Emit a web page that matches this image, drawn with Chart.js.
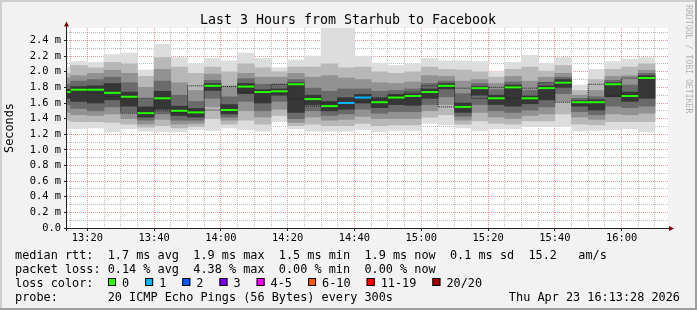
<!DOCTYPE html>
<html>
<head>
<meta charset="utf-8">
<script src="https://cdn.jsdelivr.net/npm/chart.js@4/dist/chart.umd.min.js"></script>
<style>
  html, body { margin: 0; padding: 0; background: #f2f2f2; }
  #wrap { width: 697px; height: 310px; }
</style>
</head>
<body>
<div id="wrap"><canvas id="smoke" width="697" height="310"></canvas></div>
<script>
// 5 minute slots, labelled by the end of each slot
const slotEnds = ['13:15', '13:20', '13:25', '13:30', '13:35', '13:40', '13:45', '13:50', '13:55',
    '14:00', '14:05', '14:10', '14:15', '14:20', '14:25', '14:30', '14:35', '14:40', '14:45', '14:50', '14:55',
    '15:00', '15:05', '15:10', '15:15', '15:20', '15:25', '15:30', '15:35', '15:40', '15:45', '15:50', '15:55',
    '16:00', '16:05', '16:10'];

// rtt in ms, outer smoke band to inner band, then the median
const rttMax = [2.06, 2.13, 2.12, 2.22, 2.24, 2.02, 2.35, 2.18, 2.10, 2.17, 2.14, 2.24, 2.17, 2.05, 2.15, 2.20, 2.60, 2.60, 2.20, 2.11, 2.08, 2.10, 2.17, 2.14, 2.14, 2.13, 2.00, 2.12, 2.21, 2.11, 2.18, 1.83, 2.03, 2.13, 2.16, 2.18];
const rttHi2 = [1.98, 2.08, 2.05, 2.12, 2.10, 1.94, 2.18, 2.06, 1.98, 2.06, 2.00, 2.10, 2.05, 2.00, 2.06, 2.06, 2.10, 2.05, 2.06, 2.00, 1.98, 2.00, 2.06, 2.03, 2.02, 2.00, 1.93, 2.03, 2.06, 2.01, 2.08, 1.76, 1.90, 2.03, 2.06, 2.10];
const rttHi3 = [1.92, 1.95, 1.98, 2.02, 1.98, 1.80, 2.03, 1.86, 1.76, 1.97, 1.82, 1.98, 1.93, 1.93, 1.98, 1.93, 1.95, 1.92, 1.90, 1.86, 1.85, 1.87, 1.95, 1.94, 1.88, 1.90, 1.85, 1.94, 1.88, 1.93, 1.98, 1.70, 1.76, 1.94, 1.95, 2.02];
const rttHi4 = [1.84, 1.88, 1.90, 1.93, 1.86, 1.65, 1.88, 1.70, 1.62, 1.89, 1.68, 1.91, 1.84, 1.84, 1.90, 1.79, 1.75, 1.78, 1.78, 1.75, 1.76, 1.78, 1.85, 1.88, 1.72, 1.85, 1.77, 1.87, 1.76, 1.86, 1.93, 1.66, 1.68, 1.89, 1.83, 1.98];
const rttHi5 = [1.77, 1.81, 1.82, 1.85, 1.74, 1.55, 1.75, 1.56, 1.53, 1.85, 1.58, 1.85, 1.77, 1.78, 1.86, 1.70, 1.62, 1.66, 1.71, 1.66, 1.71, 1.72, 1.78, 1.85, 1.60, 1.81, 1.70, 1.83, 1.69, 1.82, 1.90, 1.63, 1.64, 1.86, 1.74, 1.95];
const rttMedian = [1.74, 1.77, 1.77, 1.73, 1.68, 1.47, 1.66, 1.50, 1.48, 1.82, 1.51, 1.81, 1.74, 1.75, 1.84, 1.65, 1.56, 1.60, 1.67, 1.61, 1.67, 1.69, 1.74, 1.82, 1.55, 1.79, 1.66, 1.80, 1.66, 1.79, 1.86, 1.61, 1.61, 1.84, 1.69, 1.92];
const rttLo5 = [1.66, 1.62, 1.60, 1.64, 1.56, 1.42, 1.52, 1.44, 1.42, 1.76, 1.46, 1.72, 1.60, 1.70, 1.48, 1.58, 1.50, 1.52, 1.60, 1.54, 1.58, 1.57, 1.66, 1.78, 1.48, 1.70, 1.58, 1.56, 1.59, 1.64, 1.80, 1.56, 1.51, 1.68, 1.62, 1.66];
const rttLo4 = [1.58, 1.53, 1.50, 1.55, 1.48, 1.38, 1.46, 1.38, 1.38, 1.66, 1.42, 1.62, 1.50, 1.62, 1.40, 1.50, 1.44, 1.46, 1.52, 1.47, 1.49, 1.49, 1.58, 1.68, 1.43, 1.58, 1.50, 1.48, 1.51, 1.55, 1.72, 1.49, 1.45, 1.56, 1.54, 1.56];
const rttLo3 = [1.48, 1.45, 1.44, 1.46, 1.40, 1.33, 1.39, 1.33, 1.34, 1.55, 1.38, 1.50, 1.42, 1.52, 1.35, 1.42, 1.38, 1.39, 1.43, 1.40, 1.40, 1.40, 1.50, 1.58, 1.38, 1.48, 1.42, 1.40, 1.44, 1.46, 1.62, 1.42, 1.39, 1.46, 1.45, 1.47];
const rttLo2 = [1.38, 1.36, 1.36, 1.35, 1.33, 1.29, 1.31, 1.28, 1.30, 1.40, 1.33, 1.38, 1.33, 1.44, 1.31, 1.33, 1.31, 1.31, 1.34, 1.31, 1.32, 1.32, 1.42, 1.45, 1.33, 1.37, 1.34, 1.33, 1.37, 1.37, 1.46, 1.33, 1.32, 1.36, 1.36, 1.36];
const rttMin = [1.27, 1.27, 1.28, 1.23, 1.27, 1.24, 1.23, 1.23, 1.26, 1.25, 1.28, 1.26, 1.24, 1.36, 1.27, 1.24, 1.24, 1.24, 1.26, 1.23, 1.25, 1.25, 1.34, 1.32, 1.28, 1.25, 1.27, 1.27, 1.30, 1.30, 1.30, 1.24, 1.25, 1.26, 1.27, 1.23];
// lost pings out of 20 per slot
const lossCount = [0, 0, 0, 0, 0, 0, 0, 0, 0, 0, 0, 0, 0, 0, 0, 0, 0, 1, 1, 0, 0, 0, 0, 0, 0, 0, 0, 0, 0, 0, 0, 0, 0, 0, 0, 0];

const lossLabels = ['0', '1', '2', '3', '4-5', '6-10', '11-19', '20/20'];
const lossUpTo = [0, 1, 2, 3, 5, 10, 19, 20];
const lossColors = ['#26ff00', '#00b8ff', '#0059ff', '#7e00ff', '#ff00ff', '#ff5500', '#ff0000', '#a10000'];

const viewEnd = '16:13:54';
const viewSpan = 180;
const slotMin = 5;

const FONT = 'DejaVu Sans Mono';

function toMin(s) {
    const p = s.split(':').map(Number);
    return (p[0] - 13) * 60 + p[1] + (p[2] || 0) / 60;
}
function lossColor(n) {
    for (let i = 0; i < lossUpTo.length; i++) if (n <= lossUpTo[i]) return lossColors[i];
    return lossColors[lossColors.length - 1];
}
function hhmm(v) {
    const h = 13 + Math.floor(v / 60), m = v % 60;
    return h + ':' + String(m).padStart(2, '0');
}

const bands = [
    { lo: rttLo5, hi: rttHi5, color: '#363636' },
    { lo: rttLo4, hi: rttHi4, color: '#6a6a6a' },
    { lo: rttLo3, hi: rttHi3, color: '#929292' },
    { lo: rttLo2, hi: rttHi2, color: '#b8b8b8' },
    { lo: rttMin, hi: rttMax, color: '#dddddd' }
];

const medianPts = [];
slotEnds.forEach((t, i) => {
    const e = toMin(t);
    medianPts.push({ x: e - slotMin, y: rttMedian[i] }, { x: e, y: rttMedian[i] }, { x: e, y: null });
});
const stepPts = slotEnds.map((t, i) => ({ x: toMin(t) - slotMin, y: rttMedian[i] }));
stepPts.push({ x: toMin(slotEnds[slotEnds.length - 1]), y: rttMedian[rttMedian.length - 1] });

const datasets = [
    {
        type: 'line', data: medianPts, borderWidth: 2, pointRadius: 0, spanGaps: false,
        borderColor: lossColors[0], borderCapStyle: 'butt',
        segment: { borderColor: ctx => lossColor(lossCount[Math.floor(ctx.p0DataIndex / 3)]) }
    },
    {
        type: 'line', data: stepPts, stepped: 'after', borderWidth: 1, borderDash: [1, 1],
        borderColor: '#202020', pointRadius: 0
    }
].concat(bands.map(b => ({
    type: 'bar',
    data: slotEnds.map((t, i) => ({ x: toMin(t) - slotMin / 2, y: [b.lo[i], b.hi[i]] })),
    backgroundColor: b.color,
    borderWidth: 0,
    barPercentage: 1,
    categoryPercentage: 1,
    grouped: false
})));

const majorGrid = 'rgba(222,79,79,0.6)';
const minorGrid = 'rgba(143,143,143,0.6)';
const isMajorX = v => Math.abs(v % 20) < 1e-6;
const isMajorY = v => Math.round(v * 10) % 2 === 0;

const rrdFrame = {
    id: 'rrdFrame',
    beforeDraw(chart) {
        const { ctx, chartArea: a, width, height } = chart;
        ctx.save();
        ctx.fillStyle = '#f2f2f2';
        ctx.fillRect(0, 0, width, height);
        ctx.fillStyle = '#cfcfcf';
        ctx.fillRect(0, 0, width, 2);
        ctx.fillRect(0, 0, 2, height);
        ctx.fillStyle = '#9e9e9e';
        ctx.fillRect(0, height - 2, width, 2);
        ctx.fillRect(width - 2, 0, 2, height);
        ctx.fillStyle = '#ffffff';
        ctx.fillRect(a.left, a.top, a.right - a.left, a.bottom - a.top);
        ctx.restore();
    },
    afterDraw(chart) {
        const { ctx, chartArea: a } = chart;
        ctx.save();
        // axes
        ctx.strokeStyle = '#202020';
        ctx.lineWidth = 1;
        ctx.beginPath();
        ctx.moveTo(a.left - 0.5, a.top - 2);
        ctx.lineTo(a.left - 0.5, a.bottom + 3);
        ctx.moveTo(a.left - 3, a.bottom + 0.5);
        ctx.lineTo(a.right + 1, a.bottom + 0.5);
        ctx.stroke();
        ctx.fillStyle = '#800000';
        ctx.beginPath();
        ctx.moveTo(a.left - 0.5, a.top - 6.5);
        ctx.lineTo(a.left - 3, a.top - 1.5);
        ctx.lineTo(a.left + 2, a.top - 1.5);
        ctx.closePath();
        ctx.fill();
        ctx.beginPath();
        ctx.moveTo(a.right + 6, a.bottom + 0.5);
        ctx.lineTo(a.right + 1, a.bottom - 2);
        ctx.lineTo(a.right + 1, a.bottom + 3);
        ctx.closePath();
        ctx.fill();

        // title
        ctx.fillStyle = '#000';
        ctx.font = '13.3px "' + FONT + '"';
        ctx.textAlign = 'center';
        ctx.textBaseline = 'alphabetic';
        ctx.fillText('Last 3 Hours from Starhub to Facebook', 348, 24);

        // watermark
        ctx.save();
        ctx.translate(688, 5);
        ctx.rotate(Math.PI / 2);
        ctx.font = '8.2px "' + FONT + '"';
        ctx.fillStyle = 'rgba(0,0,0,0.28)';
        ctx.textAlign = 'left';
        ctx.textBaseline = 'middle';
        ctx.fillText('RRDTOOL / TOBI OETIKER', 0, 0);
        ctx.restore();

        // legend
        ctx.font = '11.85px "' + FONT + '"';
        ctx.textAlign = 'left';
        ctx.fillStyle = '#000';
        ctx.fillText('median rtt:  1.7 ms avg  1.9 ms max  1.5 ms min  1.9 ms now  0.1 ms sd  15.2   am/s', 15, 259);
        ctx.fillText('packet loss: 0.14 % avg  4.38 % max  0.00 % min  0.00 % now', 15, 273);
        ctx.fillText('loss color:', 15, 287);
        ctx.fillText('probe:       20 ICMP Echo Pings (56 Bytes) every 300s', 15, 301);
        ctx.textAlign = 'right';
        ctx.fillText('Thu Apr 23 16:13:28 2026', 680, 301);
        ctx.textAlign = 'left';
        let bx = 108;
        lossLabels.forEach((lab, i) => {
            ctx.fillStyle = lossColors[i];
            ctx.fillRect(bx, 278, 8, 8);
            ctx.strokeStyle = '#000';
            ctx.strokeRect(bx + 0.5, 278.5, 7, 7);
            ctx.fillStyle = '#000';
            ctx.fillText(lab, bx + 14, 287);
            bx += 30 + lab.length * 7.15;
        });
        ctx.restore();
    }
};

new Chart(document.getElementById('smoke').getContext('2d'), {
    type: 'bar',
    data: { datasets: datasets },
    options: {
        responsive: false,
        animation: false,
        devicePixelRatio: 1,
        layout: { padding: { top: 28, right: 29, left: 0, bottom: 0 } },
        plugins: { legend: { display: false }, tooltip: { enabled: false }, title: { display: false } },
        scales: {
            x: {
                type: 'linear',
                min: toMin(viewEnd) - viewSpan,
                max: toMin(viewEnd),
                offset: false,
                z: 1,
                afterBuildTicks: s => {
                    const t = [];
                    for (let v = Math.ceil(s.min / slotMin) * slotMin; v <= s.max; v += slotMin) t.push({ value: v });
                    s.ticks = t;
                },
                afterFit: s => { s.height = 82; },
                grid: {
                    offset: false,
                    color: c => isMajorX(c.tick.value) ? majorGrid : minorGrid,
                    tickColor: c => isMajorX(c.tick.value) ? '#202020' : 'rgba(0,0,0,0)',
                    tickLength: 3,
                    tickBorderDash: [],
                    lineWidth: 1
                },
                border: { display: false, dash: [1, 1] },
                ticks: {
                    autoSkip: false, maxRotation: 0, minRotation: 0, padding: 1, color: '#000',
                    font: { family: FONT, size: 10.4 },
                    callback: v => isMajorX(v) ? hhmm(v) : ''
                }
            },
            y: {
                type: 'linear',
                min: 0,
                max: 2.56,
                z: 1,
                afterBuildTicks: s => {
                    const t = [];
                    for (let k = 0; k / 10 <= s.max + 1e-9; k++) t.push({ value: k / 10 });
                    s.ticks = t;
                },
                afterFit: s => { s.width = 67; },
                grid: {
                    color: c => c.tick.value === 0 ? 'rgba(0,0,0,0)' : (isMajorY(c.tick.value) ? majorGrid : minorGrid),
                    tickColor: c => isMajorY(c.tick.value) ? '#202020' : 'rgba(0,0,0,0)',
                    tickLength: 3,
                    tickBorderDash: [],
                    lineWidth: 1
                },
                border: { display: false, dash: [1, 1] },
                ticks: {
                    autoSkip: false, padding: 3, color: '#000',
                    font: { family: FONT, size: 10.4 },
                    callback: v => !isMajorY(v) ? '' : (Math.round(v * 10) === 0 ? '0.0' : v.toFixed(1) + ' m')
                },
                title: {
                    display: true, text: 'Seconds', color: '#000',
                    font: { family: FONT, size: 11.85 },
                    padding: { top: 3, bottom: 0 }
                }
            }
        }
    },
    plugins: [rrdFrame]
});
</script>
</body>
</html>
